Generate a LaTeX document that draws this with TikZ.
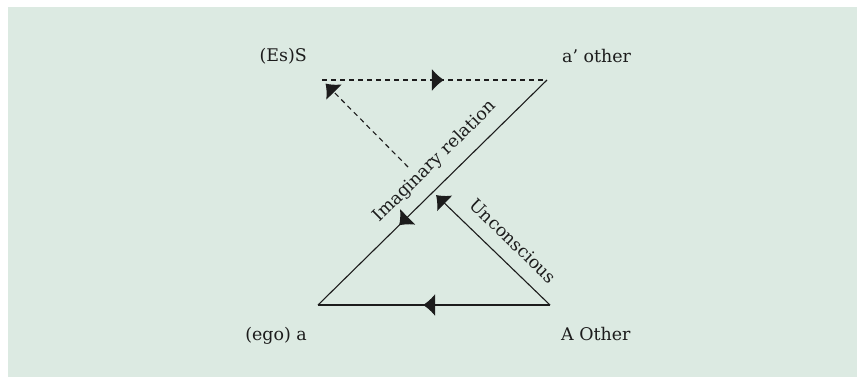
\documentclass[tikz,border=0pt]{standalone}
\usepackage{fontspec}
\setmainfont{DejaVu Serif}
\usetikzlibrary{arrows.meta, decorations.markings, positioning}
\definecolor{fondo}{RGB}{220,234,226}
\definecolor{trazo}{RGB}{28,28,28}
\tikzset{
    flecha/.style={-{Latex[length=12bp,width=22bp]}},
    mitad/.style={postaction={decorate}, decoration={markings, mark=at position #1 with {\arrow{Latex[length=12bp,width=22bp]}}}},
    rotulo/.style={font=\fontsize{17.5}{20}\selectfont, text=trazo, inner sep=0pt},
    linea/.style={draw=trazo, line width=1.1bp},
    punteado/.style={linea, dash pattern=on 5bp off 4bp},
}
\begin{document}
\begin{tikzpicture}[x=1bp, y=-1bp]
\useasboundingbox (0,0) rectangle (857,377);
\fill[fondo] (8,7) rectangle (857,377);
\coordinate (S) at (322,80);
\coordinate (aotro) at (547,80);
\coordinate (ego) at (318,305);
\coordinate (Aotro) at (550,305);
\coordinate (inicio) at (408,167);
\coordinate (fin) at (436,195);
\node[rotulo, anchor=base east] (tS) at (307,61) {(Es)S};
\node[rotulo, anchor=base west] (ta) at (562,62) {a’ other};
\node[rotulo, anchor=base east] (tego) at (307,340) {(ego) a};
\node[rotulo, anchor=base west] (tA) at (561,340) {A Other};
\draw[punteado, mitad=0.542] (S) -- (aotro);
\draw[punteado, flecha, shorten >=5bp] (inicio) -- (S);
\draw[linea, mitad=0.646] (aotro) -- node[rotulo, sloped, above, outer sep=12bp, pos=0.427] (timag) {Imaginary relation} (ego);
\draw[linea, mitad=0.547] (Aotro) -- (ego);
\draw[linea, flecha] (Aotro) -- node[rotulo, sloped, above, outer sep=14bp, pos=0.448] (tinc) {Unconscious} (fin);
\end{tikzpicture}
\end{document}
